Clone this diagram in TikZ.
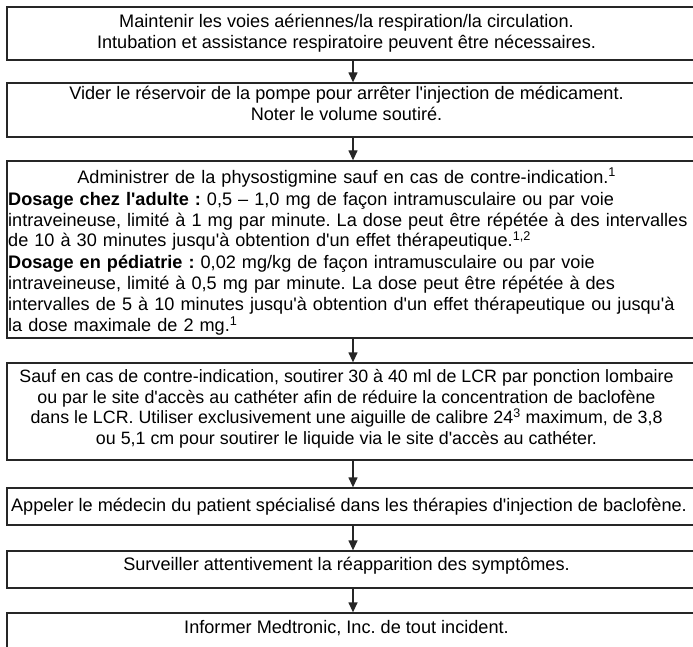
\documentclass[tikz,border=0pt]{standalone}
\usepackage{fontspec}
\setmainfont{Liberation Sans}
\newfontfamily\flowfont{Liberation Sans}
\usetikzlibrary{arrows.meta}
\frenchspacing

\begin{document}
\begin{tikzpicture}[x=1bp,y=-1bp,
  stepbox/.style={draw=black!85, line width=1.3bp, rectangle, inner sep=0pt,
    minimum width=692bp},
  steptext/.style={anchor=north, inner sep=0pt, align=center,
    font=\flowfont\fontsize{18.2}{21}\selectfont},
  steppara/.style={anchor=north west, inner sep=0pt, align=left, text width=690bp,
    font=\flowfont\fontsize{18.2}{21}\selectfont},
  flow/.style={draw=black!85, line width=1.3bp,
    -{Triangle[length=10bp,width=9bp]}}]
\useasboundingbox (0,0) rectangle (693,647);
\clip (0,0) rectangle (693,647);

% frames of the seven steps
\node[stepbox, minimum height=53bp]  (b1) at (353,33.5)  {};
\node[stepbox, minimum height=54bp]  (b2) at (353,110)   {};
\node[stepbox, minimum height=177bp] (b3) at (353,249.5) {};
\node[stepbox, minimum height=97bp]  (b4) at (353,411.5) {};
\node[stepbox, minimum height=37bp]  (b5) at (353,506.5) {};
\node[stepbox, minimum height=37bp]  (b6) at (353,569.5) {};
\node[stepbox, minimum height=37bp]  (b7) at (353,631.5) {};

% texts (first baseline = node top + strut height 14.7)
\node[steptext] (t1) at (346.5,13) {\strut Maintenir les voies aériennes/la respiration/la circulation.\\
  Intubation et assistance respiratoire peuvent être nécessaires.};
\node[steptext] (t2) at (346.5,84.3) {\strut Vider le réservoir de la pompe pour arrêter l'injection de médicament.\\
  Noter le volume soutiré.};
\node[steppara] (t3) at (8,168) {\makebox[677bp][c]{\strut Administrer de la physostigmine sauf en cas de contre-indication.\textsuperscript{1}}\\[1bp]
  \textbf{Dosage chez l'adulte :} 0,5 – 1,0 mg de façon intramusculaire ou par voie\\
  intraveineuse, limité à 1 mg par minute. La dose peut être répétée à des intervalles\\
  de 10 à 30 minutes jusqu'à obtention d'un effet thérapeutique.\textsuperscript{1,2}\\[1bp]
  \textbf{Dosage en pédiatrie :} 0,02 mg/kg de façon intramusculaire ou par voie\\
  intraveineuse, limité à 0,5 mg par minute. La dose peut être répétée à des\\
  intervalles de 5 à 10 minutes jusqu'à obtention d'un effet thérapeutique ou jusqu'à\\
  la dose maximale de 2 mg.\textsuperscript{1}};
\node[steptext, font=\flowfont\fontsize{17.9}{21}\selectfont] (t4) at (346.5,367.3)
  {\strut Sauf en cas de contre-indication, soutirer 30 à 40 ml de LCR par ponction lombaire\\
  ou par le site d'accès au cathéter afin de réduire la concentration de baclofène\\
  dans le LCR. Utiliser exclusivement une aiguille de calibre 24\textsuperscript{3} maximum, de 3,8\\
  ou 5,1 cm pour soutirer le liquide via le site d'accès au cathéter.};
\node[steptext] (t5) at (349,496.3) {\strut Appeler le médecin du patient spécialisé dans les thérapies d'injection de baclofène.};
\node[steptext] (t6) at (346.5,555.3) {\strut Surveiller attentivement la réapparition des symptômes.};
\node[steptext] (t7) at (346.5,618.5) {\strut Informer Medtronic, Inc. de tout incident.};

% connectors
\draw[flow] (b1.south) -- (b2.north);
\draw[flow] (b2.south) -- (b3.north);
\draw[flow] (b3.south) -- (b4.north);
\draw[flow] (b4.south) -- (b5.north);
\draw[flow] (b5.south) -- (b6.north);
\draw[flow] (b6.south) -- (b7.north);
\end{tikzpicture}
\end{document}
